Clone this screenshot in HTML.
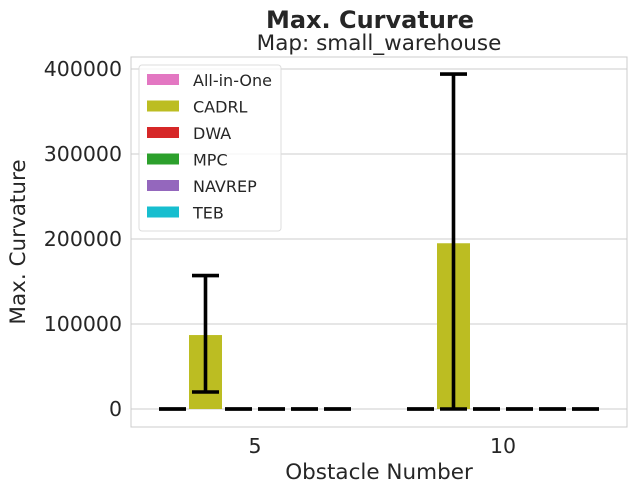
<!DOCTYPE html>
<html><head><meta charset="utf-8"><style>
body{margin:0;background:#fff;font-family:"Liberation Sans","DejaVu Sans",sans-serif;}
svg text{font-family:"DejaVu Sans","Liberation Sans",sans-serif;fill:#262626;}
</style></head><body>
<svg id="chart" width="636" height="492" xmlns="http://www.w3.org/2000/svg">
<text x="370" y="28" font-size="24" font-weight="bold" text-anchor="middle">Max. Curvature</text>
<text x="379" y="50" font-size="21.5" text-anchor="middle">Map: small_warehouse</text>
<g id="grid"></g>
<rect x="131" y="57" width="496" height="370" fill="none" stroke="#ccc" stroke-width="1"/>
<g id="bars"></g>
<g id="ticks"></g>
<text x="379" y="479" font-size="21.5" text-anchor="middle">Obstacle Number</text>
<text transform="translate(25,242) rotate(-90)" font-size="21.5" text-anchor="middle">Max. Curvature</text>
<g id="legend"></g>
</svg>
<script>
const categories=["5","10"];
const series=["All-in-One","CADRL","DWA","MPC","NAVREP","TEB"];
const colors=["#e377c2","#bcbd22","#d62728","#2ca02c","#9467bd","#17becf"];
const seriesValues=[[0,0],[87000,195000],[0,0],[0,0],[0,0],[0,0]];
const errLow=[[0,0],[20000,0],[0,0],[0,0],[0,0],[0,0]];
const errHigh=[[0,0],[157000,394000],[0,0],[0,0],[0,0],[0,0]];
const yTicks=[0,100000,200000,300000,400000];
const NS="http://www.w3.org/2000/svg";
const y=v=>409-v*0.00085;
const x=i=>255+i*248;
function mk(tag,a,p){const e=document.createElementNS(NS,tag);for(const k in a)e.setAttribute(k,a[k]);p.appendChild(e);return e;}
const grid=document.getElementById('grid'),ticks=document.getElementById('ticks'),bars=document.getElementById('bars'),leg=document.getElementById('legend');
yTicks.forEach(t=>{
 const l=mk('line',{x1:131,x2:627,y1:y(t),y2:y(t),stroke:'#ccc'},grid);
 
 
 const tx=mk('text',{x:122,y:y(t)+7,'font-size':20.5,'text-anchor':'end'},ticks);tx.textContent=t;
 
 
});
categories.forEach((c,i)=>{
 const tx=mk('text',{x:x(i),y:453,'font-size':20.5,'text-anchor':'middle'},ticks);tx.textContent=c;
 
 
});
const bw=33;
series.forEach((s,si)=>{
 categories.forEach((c,ci)=>{
  const cx=x(ci)+(si-2.5)*bw;
  const v=seriesValues[si][ci];
  const r=mk('rect',{x:cx-bw/2,y:y(v),width:bw,height:y(0)-y(v),fill:colors[si]},bars);
  
  
  const lo=y(errLow[si][ci]),hi=y(errHigh[si][ci]);
  const g=mk('g',{stroke:'#000','stroke-width':3.6},bars);
  
  
  mk('line',{x1:cx,x2:cx,y1:lo,y2:hi},g);
  mk('line',{x1:cx-13.5,x2:cx+13.5,y1:lo,y2:lo},g);
  mk('line',{x1:cx-13.5,x2:cx+13.5,y1:hi,y2:hi},g);
 });
});
const lb=mk('rect',{x:139,y:65,width:142,height:166,fill:'#fff','fill-opacity':0.8,stroke:'#ddd',rx:3},leg);


series.forEach((s,i)=>{
 const yy=80+i*26.5;
 const g=mk('g',{},leg);
 
 
 mk('rect',{x:147,y:yy-6,width:32,height:11,fill:colors[i]},g);
 const t=mk('text',{x:193,y:yy+6,'font-size':16},g);t.textContent=s;
});
</script>
</body></html>
